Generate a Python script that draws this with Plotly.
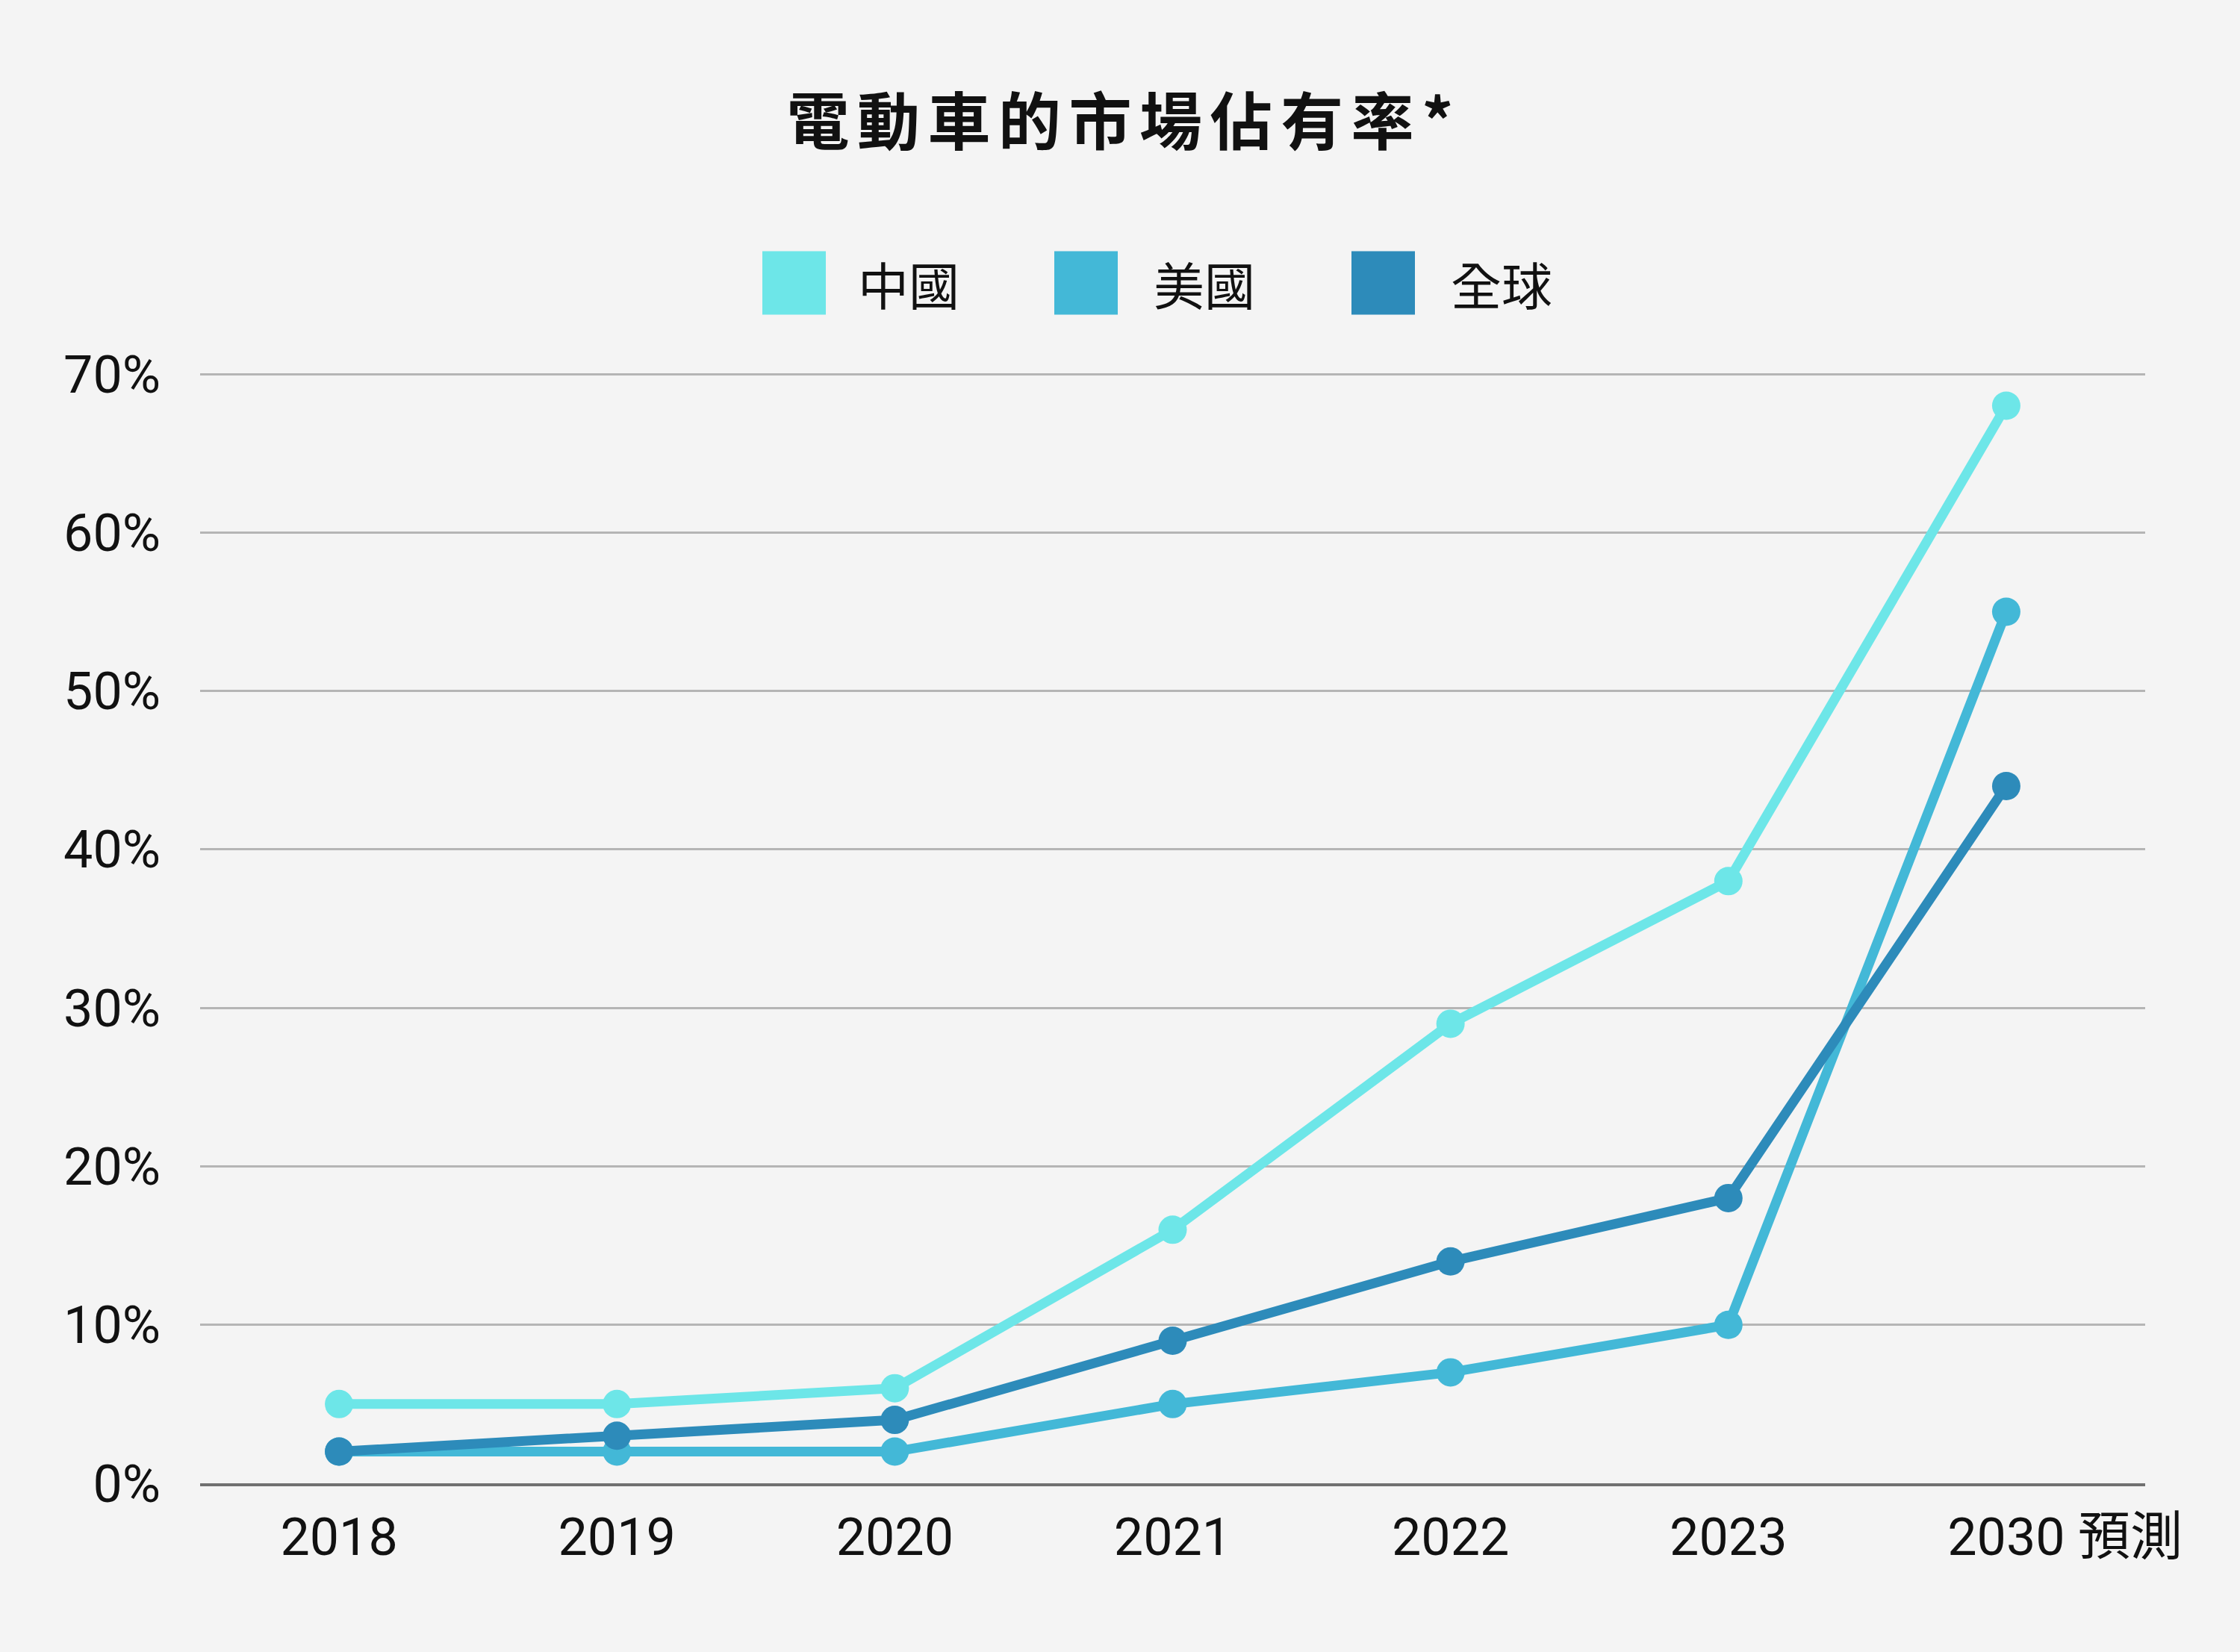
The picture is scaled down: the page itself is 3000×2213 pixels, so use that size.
import plotly.graph_objects as go

# ---- data ----
categories = ["2018", "2019", "2020", "2021", "2022", "2023", "2030 預測"]
tick_labels = ["2018", "2019", "2020", "2021", "2022", "2023",
               "\u3000\u3000\u00a02030\u00a0預測"]
series_names = ["中國", "美國", "全球"]
china = [5, 5, 6, 16, 29, 38, 68]
usa = [2, 2, 2, 5, 7, 10, 55]
world = [2, 3, 4, 9, 14, 18, 44]
colors = ["#6DE6E8", "#43B8D7", "#2D8BBA"]
y_ticks = [0, 10, 20, 30, 40, 50, 60, 70]
y_tick_labels = [f"{v}%" for v in y_ticks]
title_text = "電動車的市場佔有率*"

W, H = 3000, 2213
L, R, T, B = 268, 127, 500, 226
BG = "#F4F4F4"
FONT = "Roboto, 'Noto Sans CJK TC', sans-serif"

fig = go.Figure()
for name, vals, col in zip(series_names, [china, usa, world], colors):
    fig.add_trace(go.Scatter(
        x=categories, y=vals, name=name, mode="lines+markers",
        line=dict(color=col, width=13),
        marker=dict(color=col, size=38),
        showlegend=False,
    ))

# manual legend (large squares)
pw, ph = W - L - R, H - T - B
def px_x(p):
    return (p - L) / pw
def px_y(p):
    return 1 - (p - T) / ph

sq_left = [1021, 1412, 1810]
txt_left = [1147, 1543, 1941]
sq = 85
cy = 379
for name, col, sx, tx in zip(series_names, colors, sq_left, txt_left):
    fig.add_shape(type="rect", xref="paper", yref="paper",
                  x0=px_x(sx), x1=px_x(sx + sq),
                  y0=px_y(cy + sq / 2), y1=px_y(cy - sq / 2),
                  fillcolor=col, line=dict(width=0))
    fig.add_annotation(text=name, xref="paper", yref="paper",
                       x=px_x(tx), y=px_y(cy), xanchor="left", yanchor="middle",
                       showarrow=False,
                       font=dict(family="'Noto Sans CJK TC', sans-serif", size=68, color="#111111"))

spaced_title = "\u200a\u200a".join(title_text)
fig.update_layout(
    width=W, height=H,
    paper_bgcolor=BG, plot_bgcolor=BG,
    margin=dict(l=L, r=R, t=T, b=B),
    font=dict(family=FONT, size=70, color="#111111"),
    title=dict(text=spaced_title, x=0.5, xanchor="center",
               y=1 - 165 / H, yanchor="middle", yref="container",
               font=dict(family="'Noto Sans CJK TC', sans-serif", size=84,
                         weight="bold", color="#111111")),
    xaxis=dict(type="category", tickmode="array", tickvals=categories,
               ticktext=tick_labels, range=[-0.5, 6.5],
               showgrid=False, showline=True, linecolor="#707070", linewidth=4,
               ticks="", ticklabelstandoff=8, zeroline=False,
               tickfont=dict(size=70, family=FONT)),
    yaxis=dict(range=[0, 70.05], tickmode="array", tickvals=y_ticks,
               ticktext=y_tick_labels, showgrid=True, gridcolor="#B5B5B5", gridwidth=3,
               zeroline=False, showline=False, ticks="",
               ticklabelstandoff=52, tickfont=dict(size=70, family=FONT)),
)

fig.write_html("out.html", config={"displayModeBar": False},
               post_script="document.body.style.margin='0';")
